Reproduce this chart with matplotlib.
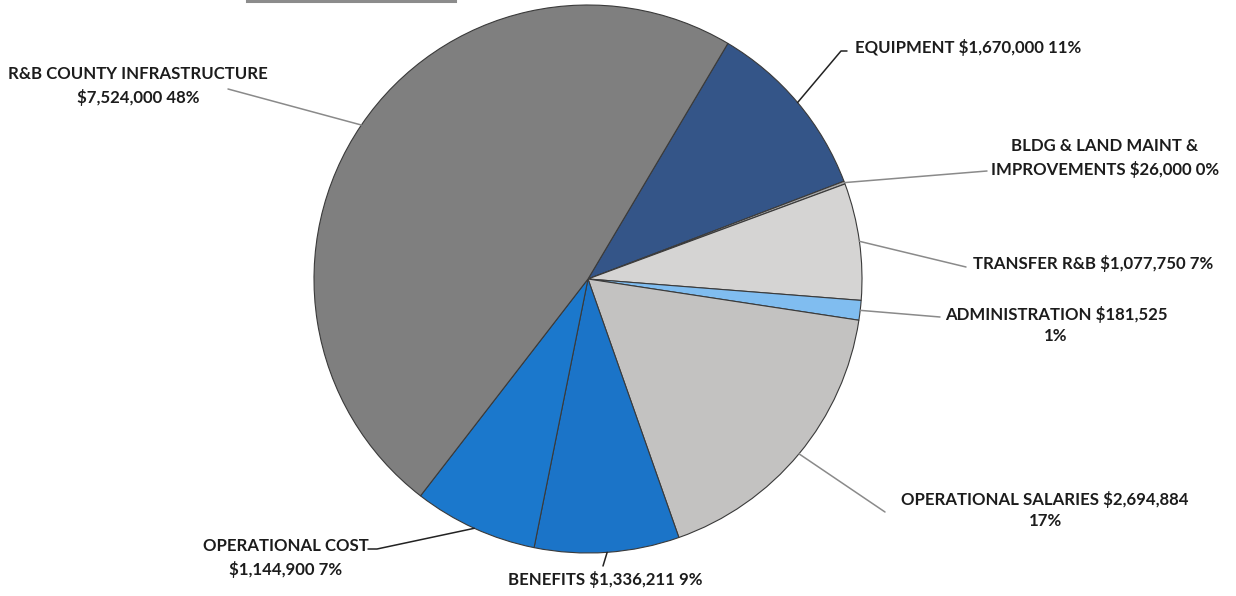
import matplotlib
matplotlib.use("Agg")
import matplotlib.pyplot as plt
import numpy as np

# Road & Bridge budget breakdown
categories = [
    "EQUIPMENT",
    "BLDG & LAND MAINT & IMPROVEMENTS",
    "TRANSFER R&B",
    "ADMINISTRATION",
    "OPERATIONAL SALARIES",
    "BENEFITS",
    "OPERATIONAL COST",
    "R&B COUNTY INFRASTRUCTURE",
]
amounts = [1670000, 26000, 1077750, 181525, 2694884, 1336211, 1144900, 7524000]
colors = ["#345588", "#a8a8a8", "#d5d4d3", "#80bdf0",
          "#c3c2c1", "#1b74c8", "#1b78cc", "#7f7f7f"]

W, H = 1236, 596
fig = plt.figure(figsize=(W / 100, H / 100), dpi=100)
ax = fig.add_axes([0, 0, 1, 1])

cx, cy, r = 588, 279, 274
# y axis runs downward, so counter-clockwise in data is clockwise on screen
wedges, _ = ax.pie(amounts, colors=colors, startangle=-59.3, counterclock=True,
                   center=(cx, cy), radius=r,
                   wedgeprops=dict(edgecolor="#3a3a3a", linewidth=0.8))
ax.set_xlim(0, W)
ax.set_ylim(H, 0)
ax.set_aspect("equal")
ax.axis("off")

total = sum(amounts)

# label layout: text centre, leader path after the wedge point, words on first line
layout = {
    "EQUIPMENT": dict(xy=(968, 47), path=[(841, 51), (847, 51)], wrap=None),
    "BLDG & LAND MAINT & IMPROVEMENTS": dict(xy=(1105, 158), path=[(987, 171)], wrap=5),
    "TRANSFER R&B": dict(xy=(1093, 263), path=[(966, 267)], wrap=None),
    "ADMINISTRATION": dict(xy=(1056, 325), path=[(940, 317)], wrap=2),
    "OPERATIONAL SALARIES": dict(xy=(1045, 510), path=[(885, 512)], wrap=3),
    "BENEFITS": dict(xy=(605, 580), path=[(603, 566)], wrap=None),
    "OPERATIONAL COST": dict(xy=(286, 558), path=[(377, 549), (368, 549)], wrap=2),
    "R&B COUNTY INFRASTRUCTURE": dict(xy=(138, 86), path=[(228, 89)], wrap=3),
}
line_colors = {"EQUIPMENT": "#222222", "OPERATIONAL COST": "#222222",
               "BENEFITS": "#222222"}

font = dict(family=["Lato", "DejaVu Sans"], weight="bold", size=12.1, color="#1c1c1c")

for w, name, amt in zip(wedges, categories, amounts):
    pct = round(amt / total * 100)
    words = f"{name} ${amt:,} {pct}%".split(" ")
    lay = layout[name]
    if lay["wrap"]:
        text = " ".join(words[:lay["wrap"]]) + "\n" + " ".join(words[lay["wrap"]:])
    else:
        text = " ".join(words)
    mid = np.deg2rad((w.theta1 + w.theta2) / 2)
    start = (cx + r * np.cos(mid), cy + r * np.sin(mid))
    pts = [start] + lay["path"]
    xs, ys = zip(*pts)
    ax.plot(xs, ys, color=line_colors.get(name, "#8a8a8a"), lw=1.1,
            solid_capstyle="round", zorder=3)
    ax.text(lay["xy"][0], lay["xy"][1], text, ha="center", va="center",
            linespacing=1.45, **font)

# frame edge visible along the top
ax.plot([247, 455], [0.8, 0.8], color="#8c8c8c", lw=2.2, zorder=4)

fig.savefig("out.png", dpi=100)
